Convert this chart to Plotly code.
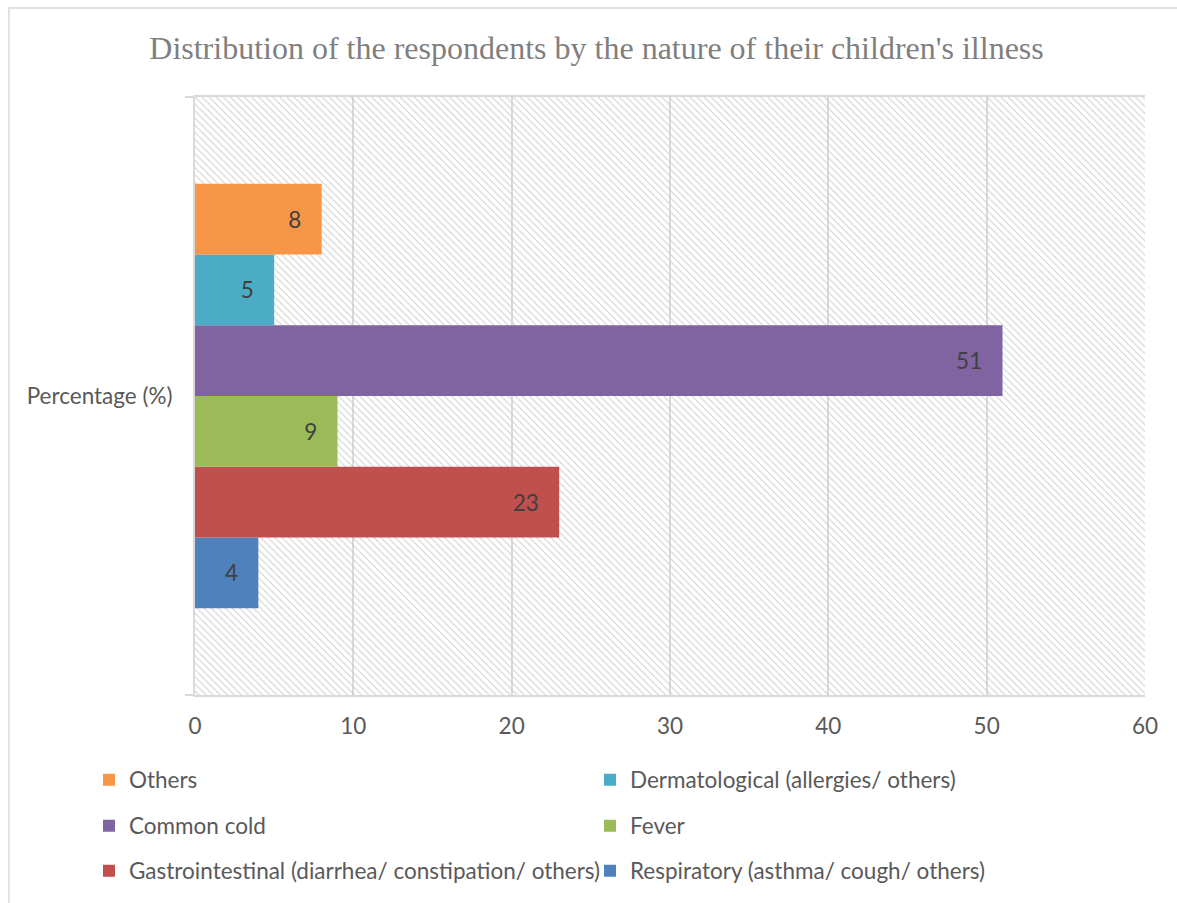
import plotly.graph_objects as go

# ---- data ----
CATEGORY = "Percentage (%)"
series_names = [
    "Respiratory (asthma/ cough/ others)",
    "Gastrointestinal (diarrhea/ constipation/ others)",
    "Fever",
    "Common cold",
    "Dermatological (allergies/ others)",
    "Others",
]
series_values = [4, 23, 9, 51, 5, 8]
series_colors = ["#4F81BD", "#C0504D", "#9BBB59", "#8064A2", "#4BACC6", "#F79646"]
x_ticks = [0, 10, 20, 30, 40, 50, 60]
X_MAX = 60

TEXT = "#595959"
GRID = "#d9d9d9"
FONT = "Lato"
FS = 22.5

# legend slot per series: (legend id, column x px, row y px)
legend_slots = [
    ("legend6", 590, 871),
    ("legend5", 89, 871),
    ("legend4", 590, 826),
    ("legend3", 89, 826),
    ("legend2", 590, 780),
    ("legend", 89, 780),
]

fig = go.Figure()

# hatched plot-area background (on the base subplot, below the data bars)
fig.add_trace(go.Bar(
    x=[X_MAX], y=[CATEGORY], orientation="h", width=1,
    marker=dict(color="rgba(0,0,0,0)", line=dict(width=0),
                pattern=dict(shape="\\", fillmode="replace", fgcolor="#cdcdcd",
                             size=5, solidity=0.2)),
    showlegend=False, hoverinfo="skip", xaxis="x", yaxis="y",
))

for name, val, col, slot in zip(series_names, series_values, series_colors, legend_slots):
    fig.add_trace(go.Bar(
        x=[val], y=[CATEGORY], name=name, orientation="h",
        marker=dict(color=col, line=dict(width=0)),
        text=[val], texttemplate="%{x}\u00a0\u00a0\u00a0",
        textposition="inside", insidetextanchor="end",
        textfont=dict(color="#404040", size=FS, family=FONT),
        constraintext="none",
        legend=slot[0], xaxis="x2", yaxis="y2",
    ))

legend_common = dict(
    orientation="h", xref="container", yref="container", xanchor="left", yanchor="middle",
    font=dict(color=TEXT, size=FS, family=FONT), bgcolor="rgba(0,0,0,0)",
    itemclick=False, itemdoubleclick=False,
)
legends = {slot[0]: dict(legend_common, x=slot[1] / 1177, y=1 - slot[2] / 903)
           for slot in legend_slots}

fig.update_layout(
    width=1177, height=903,
    margin=dict(l=195, r=32, t=97, b=208, autoexpand=False),
    paper_bgcolor="white", plot_bgcolor="white",
    font=dict(family=FONT, color=TEXT),
    title=dict(text="Distribution of the respondents by the nature of their children's illness",
               x=596.5 / 1177, xref="container", xanchor="center", y=1 - 48 / 903, yanchor="middle",
               font=dict(family="Liberation Serif", size=32, color="#7f7f7f")),
    barmode="group", bargap=0.29, bargroupgap=0,
    hovermode=False,
    xaxis=dict(range=[0, X_MAX], tickvals=x_ticks, showgrid=True, gridcolor=GRID, gridwidth=2,
               zeroline=False, showline=True, linecolor=GRID, linewidth=2, mirror=True,
               ticks="", ticklabelstandoff=10, tickfont=dict(size=FS, color=TEXT)),
    yaxis=dict(type="category", categoryarray=[CATEGORY], range=[-0.5, 0.5],
               showline=True, linecolor=GRID, linewidth=2,
               ticks="outside", tickson="boundaries", ticklen=8, tickwidth=2, tickcolor=GRID,
               ticklabelstandoff=16,
               showgrid=False, tickfont=dict(size=FS, color=TEXT)),
    xaxis2=dict(range=[0, X_MAX], overlaying="x", visible=False),
    yaxis2=dict(type="category", categoryarray=[CATEGORY], range=[-0.5, 0.5],
                overlaying="y", visible=False),
    shapes=[dict(type="rect", xref="paper", yref="paper",
                 x0=(9 - 195) / 950, x1=1.2, y0=-0.6, y1=(695 - 8) / 598,
                 line=dict(color=GRID, width=1.5), fillcolor="rgba(0,0,0,0)", layer="below")],
    **legends,
)

fig.write_html("out.html")
